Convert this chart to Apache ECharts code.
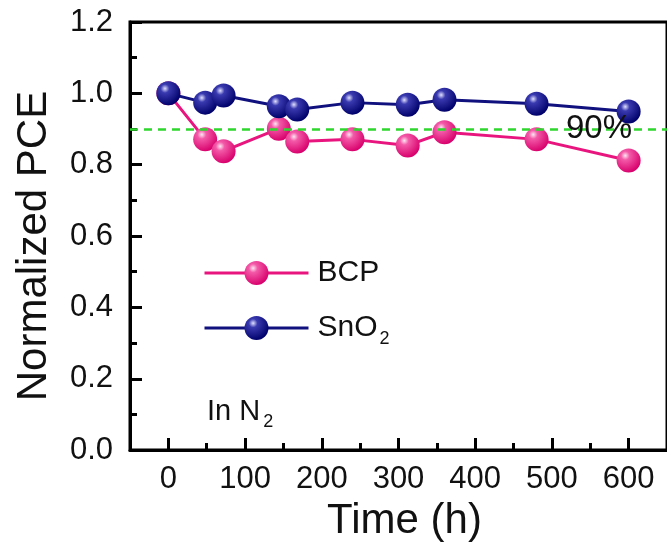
<!DOCTYPE html>
<html>
<head>
<meta charset="utf-8">
<script src="https://cdn.jsdelivr.net/npm/echarts@6/dist/echarts.min.js"></script>
<style>
  html, body { margin: 0; padding: 0; background: #fff; }
  #chart { width: 667px; height: 547px; }
</style>
</head>
<body>
<div id="chart"></div>
<script>
// 数据
const timeH = [0, 48, 72, 144, 168, 240, 312, 360, 480, 600]
const bcp = [1.0, 0.871, 0.838, 0.901, 0.865, 0.871, 0.854, 0.891, 0.871, 0.812]
const sno2 = [1.0, 0.974, 0.994, 0.964, 0.955, 0.974, 0.968, 0.982, 0.971, 0.949]
const xMajorTicks = [0, 100, 200, 300, 400, 500, 600]
const xMinorTicks = [50, 150, 250, 350, 450, 550]
const threshold = 0.9

const font = "'Liberation Sans', Arial, sans-serif"

// 球形标记
const ball = (hi, mid, edge) => new echarts.graphic.RadialGradient(0.36, 0.3, 0.72, [
  { offset: 0, color: hi },
  { offset: 0.25, color: mid },
  { offset: 1, color: edge }
])

const chart = echarts.init(document.getElementById('chart'))

const option = {
  animation: false,
  textStyle: { fontFamily: font, color: '#111' },
  grid: {
    left: 130, top: 22, width: 540, height: 430,
    show: true, borderColor: '#000', borderWidth: 3
  },
  legend: {
    orient: 'vertical',
    left: 203, top: 258, padding: 0,
    itemWidth: 104, itemHeight: 30, itemGap: 25,
    lineStyle: { width: 3 },
    textStyle: {
      fontFamily: font, color: '#111', padding: [0, 0, 0, 4],
      rich: {
        n: { fontSize: 30, fontFamily: font, color: '#111' },
        s: { fontSize: 18, fontFamily: font, color: '#111', padding: [22, 0, 0, 2] }
      }
    },
    formatter: (name) => name === 'SnO2' ? '{n|SnO}{s|2}' : '{n|' + name + '}',
    data: ['BCP', 'SnO2']
  },
  xAxis: [
    {
      type: 'value', min: -50, max: 650, position: 'bottom',
      name: 'Time (h)', nameLocation: 'middle', nameGap: 47,
      nameTextStyle: { fontSize: 42, fontFamily: font, color: '#111', padding: [0, 0, 0, 12] },
      axisLine: { onZero: false, lineStyle: { color: '#000', width: 3 } },
      axisTick: { inside: true, length: 12, lineStyle: { width: 3, color: '#000' }, customValues: xMajorTicks },
      axisLabel: { fontSize: 31, margin: 14, color: '#111', customValues: xMajorTicks },
      splitLine: { show: false }
    },
    {
      type: 'value', min: -50, max: 650, position: 'bottom',
      axisLine: { show: false, onZero: false },
      axisTick: { inside: true, length: 7, lineStyle: { width: 3, color: '#000' }, customValues: xMinorTicks },
      axisLabel: { show: false },
      splitLine: { show: false }
    }
  ],
  yAxis: {
    type: 'value', min: 0, max: 1.2, interval: 0.2,
    name: 'Normalized PCE', nameLocation: 'middle', nameGap: 75,
    nameTextStyle: { fontSize: 42, fontFamily: font, color: '#111', padding: [0, 20, 0, 0] },
    axisLine: { show: true, onZero: false, lineStyle: { color: '#000', width: 3 } },
    axisTick: { inside: true, length: 12, lineStyle: { width: 3, color: '#000' } },
    minorTick: { show: true, splitNumber: 2, length: 7, lineStyle: { width: 3, color: '#000' } },
    axisLabel: { fontSize: 31, margin: 17, color: '#111', formatter: (v) => v.toFixed(1) },
    splitLine: { show: false }
  },
  graphic: [
    {
      type: 'text', left: 207, top: 397,
      style: {
        text: '{n|In N}{s|2}',
        rich: {
          n: { fontSize: 29, fontFamily: font, fill: '#111' },
          s: { fontSize: 18, fontFamily: font, fill: '#111', padding: [22, 0, 0, 3] }
        }
      }
    }
  ],
  series: [
    {
      name: 'BCP', type: 'line',
      data: timeH.map((t, i) => [t, bcp[i]]),
      symbol: 'circle', symbolSize: 24,
      lineStyle: { color: '#e8157f', width: 3 },
      itemStyle: { color: ball('#ffe6f2', '#f35aa8', '#d8006c'), borderWidth: 0 },
      markLine: {
        silent: true, symbol: 'none',
        lineStyle: { color: '#2ed62e', width: 2.5, type: [8, 6] },
        label: {
          show: true, position: 'insideEnd', distance: 35,
          formatter: '90%', fontSize: 33, fontFamily: font, color: '#111'
        },
        data: [{ yAxis: threshold }]
      },
      z: 2
    },
    {
      name: 'SnO2', type: 'line',
      data: timeH.map((t, i) => [t, sno2[i]]),
      symbol: 'circle', symbolSize: 24,
      lineStyle: { color: '#10107e', width: 3 },
      itemStyle: { color: ball('#e0e0ff', '#3a3ab0', '#00006a'), borderWidth: 0 },
      z: 3
    }
  ]
}

chart.setOption(option)
</script>
</body>
</html>
